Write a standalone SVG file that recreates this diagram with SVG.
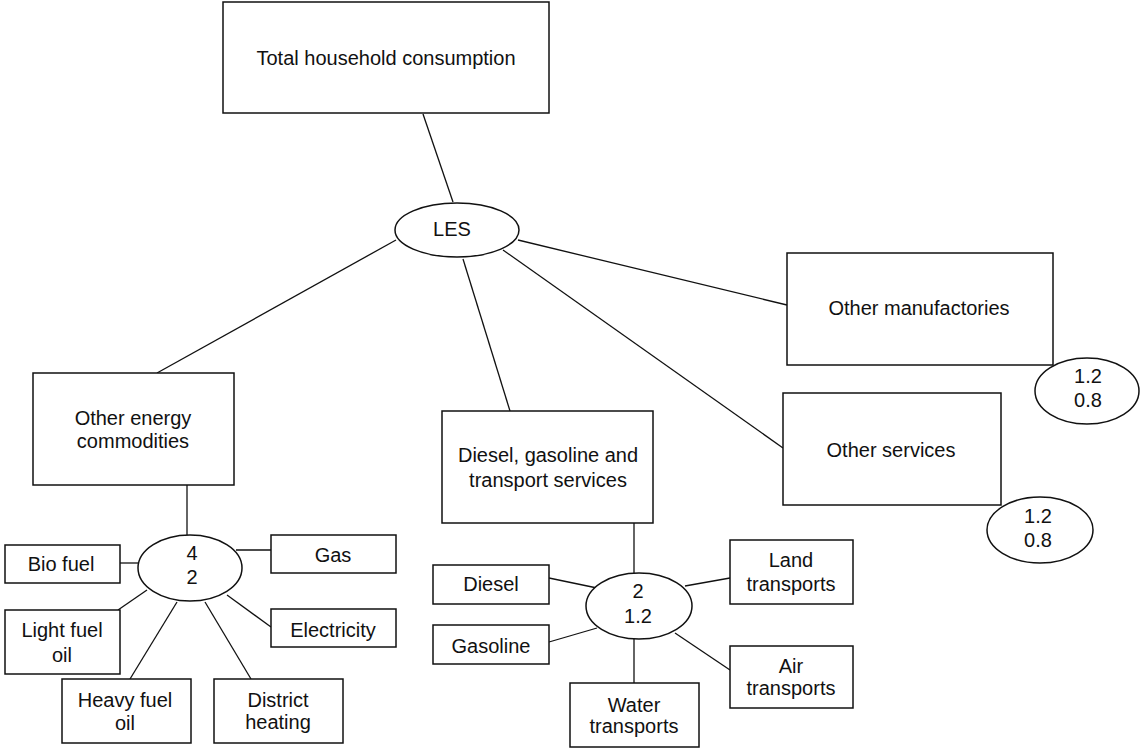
<svg xmlns="http://www.w3.org/2000/svg" width="1142" height="749" viewBox="0 0 1142 749">
<style>
.bg { fill: #fff; stroke: none; }
.n, ellipse { fill: #fff; stroke: #111; stroke-width: 1.5; }
line { stroke: #111; stroke-width: 1.3; }
text { font-family: "Liberation Sans", Arial, sans-serif; font-size: 20px; fill: #111; text-anchor: middle; }
</style>
<rect class="bg" width="1142" height="749"/>
<g id="connectors">
<line x1="423" y1="114" x2="453" y2="202"/>
<line x1="518" y1="240" x2="787" y2="305"/>
<line x1="503" y1="250" x2="783" y2="448"/>
<line x1="463" y1="259" x2="510" y2="411"/>
<line x1="396" y1="240" x2="157" y2="373"/>
<line x1="187" y1="485" x2="187" y2="535"/>
<line x1="120" y1="563" x2="138" y2="563"/>
<line x1="236" y1="550" x2="271" y2="550"/>
<line x1="118" y1="610" x2="147" y2="590"/>
<line x1="130" y1="679" x2="177" y2="602"/>
<line x1="205" y1="602" x2="251" y2="679"/>
<line x1="227" y1="595" x2="271" y2="627"/>
<line x1="634" y1="523" x2="634" y2="573"/>
<line x1="549" y1="578" x2="597" y2="588"/>
<line x1="549" y1="642" x2="597" y2="628"/>
<line x1="685" y1="586" x2="730" y2="578"/>
<line x1="675" y1="633" x2="730" y2="670"/>
<line x1="634" y1="639" x2="634" y2="683"/>
</g>
<g id="total"><rect class="n" x="223" y="2" width="326" height="111"/><text x="386" y="65">Total household consumption</text></g>
<g id="les"><ellipse cx="457" cy="230" rx="62" ry="27"/><text x="452" y="236">LES</text></g>
<g id="manuf"><rect class="n" x="787" y="253" width="266" height="112"/><text x="919" y="315">Other manufactories</text></g>
<g id="manuf-el"><ellipse cx="1087" cy="391" rx="52" ry="33"/><text x="1088" y="383">1.2</text><text x="1088" y="407">0.8</text></g>
<g id="services"><rect class="n" x="783" y="393" width="218" height="112"/><text x="891" y="457">Other services</text></g>
<g id="services-el"><ellipse cx="1040" cy="530" rx="53" ry="33"/><text x="1038" y="523">1.2</text><text x="1038" y="547">0.8</text></g>
<g id="energy"><rect class="n" x="33" y="373" width="201" height="112"/><text x="133" y="425">Other energy</text><text x="133" y="448">commodities</text></g>
<g id="energy-el"><ellipse cx="190" cy="568" rx="52" ry="33"/><text x="192" y="560">4</text><text x="192" y="584">2</text></g>
<g id="biofuel"><rect class="n" x="5" y="545" width="115" height="38"/><text x="61" y="571">Bio fuel</text></g>
<g id="gas"><rect class="n" x="271" y="535" width="125" height="38"/><text x="333" y="562">Gas</text></g>
<g id="lightfuel"><rect class="n" x="5" y="610" width="115" height="64"/><text x="62" y="637">Light fuel</text><text x="62" y="662">oil</text></g>
<g id="electricity"><rect class="n" x="271" y="609" width="125" height="38"/><text x="333" y="637">Electricity</text></g>
<g id="heavyfuel"><rect class="n" x="62" y="679" width="129" height="64"/><text x="125" y="707">Heavy fuel</text><text x="125" y="730">oil</text></g>
<g id="district"><rect class="n" x="214" y="679" width="129" height="64"/><text x="278" y="707">District</text><text x="278" y="729">heating</text></g>
<g id="transport"><rect class="n" x="442" y="411" width="211" height="112"/><text x="548" y="462">Diesel, gasoline and</text><text x="548" y="487">transport services</text></g>
<g id="transport-el"><ellipse cx="639" cy="606" rx="53" ry="33"/><text x="638" y="598">2</text><text x="638" y="623">1.2</text></g>
<g id="diesel"><rect class="n" x="433" y="565" width="116" height="39"/><text x="491" y="591">Diesel</text></g>
<g id="gasoline"><rect class="n" x="433" y="625" width="116" height="39"/><text x="491" y="653">Gasoline</text></g>
<g id="land"><rect class="n" x="730" y="540" width="123" height="64"/><text x="791" y="567">Land</text><text x="791" y="591">transports</text></g>
<g id="air"><rect class="n" x="730" y="646" width="123" height="62"/><text x="791" y="673">Air</text><text x="791" y="695">transports</text></g>
<g id="water"><rect class="n" x="570" y="683" width="129" height="64"/><text x="634" y="712">Water</text><text x="634" y="733">transports</text></g>
</svg>
